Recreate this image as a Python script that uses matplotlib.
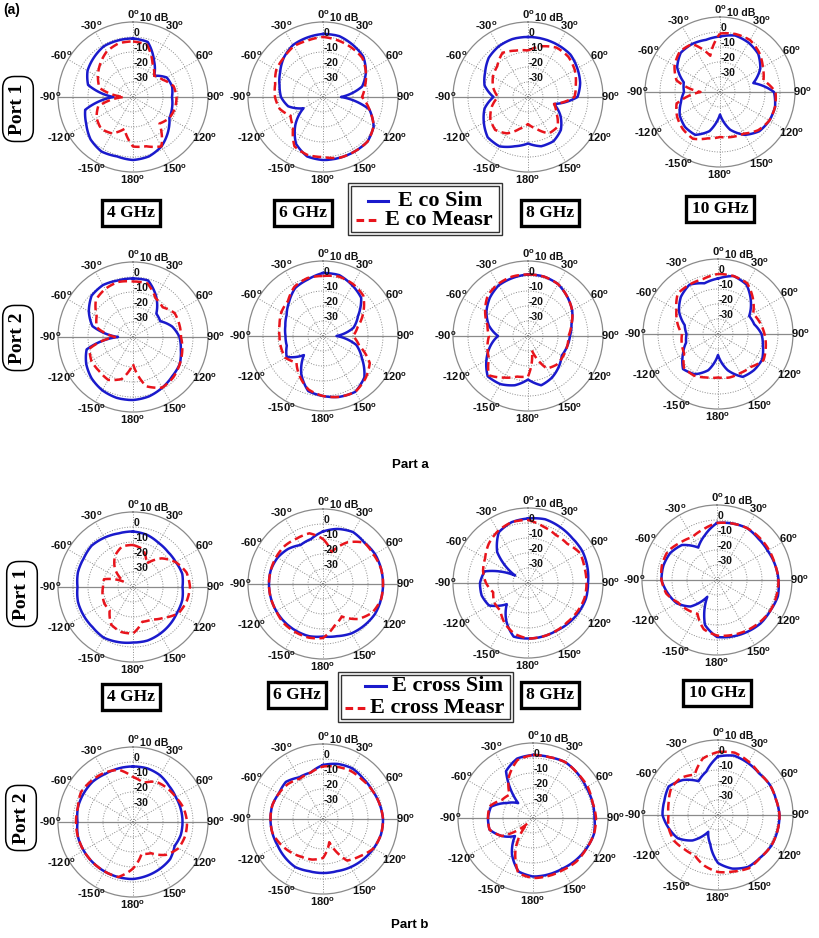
import numpy as np
import matplotlib
matplotlib.use("Agg")
import matplotlib.pyplot as plt
from matplotlib.patches import Rectangle
from matplotlib.lines import Line2D

plt.rcParams['mathtext.default'] = 'regular'

# angles (deg, clockwise from top) at which the patterns were read
angles = np.arange(0, 360, 15)

# ---- Part a: E co (dB) ----
co_p1_4_sim = [-1, -2, -12, -20, -14, -13, -14, -13, -12, -7, -2, 1, 2, 1, 2, 0, -4, -7, -27, -9, -5, -3, -1, -1]
co_p1_4_meas = [-3, -4, -14, -20, -17, -12, -11, -11, -12, -15, -2, -6, -7, -18, -12, -10, -12, -16, -34, -17, -13, -9, -5, -3]
co_p1_6_sim = [2, 2, 0, -2, -7, -13, -28, -8, -1, 2, 2, 2, 2, 1, -4, -14, -25, -16, -12, -10, -7, -3, 0, 1]
co_p1_6_meas = [0, -1, -2, -3, -7, -11, -14, -8, -1, 2, 2, 2, 0, 0, -2, -12, -15, -10, -8, -7, -4, -3, -1, -1]
co_p1_8_sim = [0, 0, 0, 0, -2, -4, -7, -22, -15, -9, -6, -6, -9, -6, -2, -2, -6, -10, -17, -10, -7, -3, -1, 0]
co_p1_8_meas = [-9, -5, -2, -2, -4, -7, -9, -22, -18, -12, -12, -18, -22, -18, -12, -9, -11, -15, -20, -16, -13, -11, -6, -8]
co_p1_10_sim = [-3, -1, -2, -4, -9, -17, -4, -2, -2, -3, -7, -14, -25, -13, -7, -7, -9, -13, -16, -15, -7, -3, -3, -4]
co_p1_10_meas = [-1, 0, 0, -3, -7, -10, -3, -2, -2, -4, -8, -9, -10, -8, -4, -5, -7, -10, -27, -10, -5, -2, -3, -15]
co_p2_4_sim = [-1, -1, -9, -18, -19, -13, -9, -7, -4, -3, -1, 1, 2, 2, 1, -1, -4, -8, -30, -12, -6, -1, 0, -1]
co_p2_4_meas = [-3, -3, -10, -12, -8, -8, -8, -6, -4, -2, -1, -6, -22, -11, -7, -8, -8, -10, -28, -15, -12, -5, -3, -2]
co_p2_6_sim = [2, 2, -1, -4, -13, -19, -31, -17, -10, -1, 3, 2, 0, -2, -11, -22, -12, -15, -15, -14, -12, -8, -3, -1]
co_p2_6_meas = [0, 1, 0, -2, -9, -16, -20, -15, -4, 0, 3, 2, 0, -3, -9, -15, -11, -11, -11, -10, -8, -7, -2, 0]
co_p2_8_sim = [1, 1, 0, -3, -6, -10, -12, -13, -14, -11, -8, -6, -11, -6, -3, -2, -8, -14, -20, -13, -8, -4, -1, 0]
co_p2_8_meas = [1, 1, 0, -3, -6, -10, -13, -13, -13, -13, -15, -30, -13, -12, -8, -3, -10, -12, -14, -12, -7, -2, 0, 1]
co_p2_10_sim = [-3, 0, -2, -9, -16, -15, -11, -9, -6, -6, -7, -15, -26, -15, -9, -7, -13, -18, -19, -17, -10, -5, -2, -5]
co_p2_10_meas = [0, 0, -1, -7, -13, -11, -9, -7, -5, -9, -10, -10, -11, -10, -8, -8, -14, -15, -16, -12, -8, -2, -2, -2]

# ---- Part b: E cross (dB) ----
cr_p1_4_sim = [-3, -4, -6, -7, -7, -6, -7, -6, -6, -5, -4, -3, -3, -2, -1, -2, -2, -2, -3, -2, -2, -1, -2, -3]
cr_p1_4_meas = [-12, -14, -22, -13, -7, -3, -2, -3, -5, -11, -15, -16, -9, -9, -11, -18, -18, -19, -20, -20, -33, -23, -16, -12]
cr_p1_6_sim = [-5, -2, 0, -1, 0, 0, 0, 0, 0, -1, -2, -4, -5, -4, -4, -4, -4, -4, -4, -4, -5, -7, -10, -9]
cr_p1_6_meas = [-10, -18, -8, -1, -1, 0, 0, 0, -2, -7, -15, -11, -4, -3, -3, -3, -4, -4, -4, -4, -4, -4, -5, -5]
cr_p1_8_sim = [3, 4, 3, 2, 2, 1, 0, 0, -1, -2, -3, -3, -3, -3, -11, -20, -10, -8, -8, -10, -30, -11, -1, 2]
cr_p1_8_meas = [2, -1, -3, -3, 0, -1, -1, -1, -2, -3, -3, -3, -3, -5, -9, -14, -14, -16, -12, -9, -7, -3, 0, 2]
cr_p1_10_sim = [-2, -1, 0, -1, -1, 0, 1, 2, 1, 1, 0, -1, -2, -9, -27, -15, -9, -6, -3, -3, -4, -7, -15, -9]
cr_p1_10_meas = [-2, -1, 0, 0, 0, 0, 1, 1, 1, 0, -1, -2, -3, -6, -14, -12, -10, -5, -3, -2, -2, -5, -7, -5]
cr_p2_4_sim = [-3, -3, -4, -6, -7, -7, -7, -7, -8, -5, -4, -3, -2, -2, -2, -2, -2, -2, -3, -2, -2, -2, -3, -3]
cr_p2_4_meas = [-10, -13, -9, -8, -7, -5, -4, -4, -5, -9, -16, -18, -9, -2, -2, -2, -2, -2, -2, -2, 0, -1, -2, -4]
cr_p2_6_sim = [-4, -2, -1, -2, -2, -1, 0, 0, -1, -2, -3, -4, -4, -4, -3, -4, -5, -5, -5, -5, -6, -5, -8, -8]
cr_p2_6_meas = [-5, -4, -3, -3, -2, -1, 0, 0, -1, -5, -8, -24, -14, -12, -11, -9, -7, -5, -5, -5, -6, -7, -9, -8]
cr_p2_8_sim = [2, 2, 3, 2, 1, 1, 1, 2, 1, 0, -1, -1, -1, -3, -12, -23, -16, -10, -10, -11, -20, -26, -4, 1]
cr_p2_8_meas = [2, 2, 3, 2, 2, 1, 2, 2, 1, 1, 0, 0, 0, -2, -17, -35, -16, -10, -10, -10, -16, -18, -8, 0]
cr_p2_10_sim = [-1, 1, 0, -1, 0, 0, 1, 1, 1, 0, 0, -3, -8, -20, -27, -16, -9, -6, -3, -3, -2, -7, -14, -10]
cr_p2_10_meas = [2, 3, 1, -1, 0, 0, 1, 1, 1, 0, 1, -1, -2, -5, -9, -8, -6, -6, -7, -6, -4, -5, -9, -1]

freqs = ["4 GHz", "6 GHz", "8 GHz", "10 GHz"]
ring_vals = [-30, -20, -10, 0, 10]
ring_text = ["-30", "-20", "-10", "0", "10 dB"]
angle_text = ["0", "30", "60", "90", "120", "150", "180", "-150", "-120", "-90", "-60", "-30"]

W, H = 819, 938
R = 75  # outer ring radius in pixels
fig = plt.figure(figsize=(W / 100, H / 100), dpi=100)

SANS = 'Liberation Sans'
SERIF = 'Liberation Serif'
BLUE = '#1a1acc'
RED = '#e8141c'
GRID = '#8a8a8a'


def fx(x):
    return x / W


def fy(y):
    return 1 - y / H


def polar_panel(cx, cy, sim, meas):
    ax = fig.add_axes([fx(cx - R), fy(cy + R), 2 * R / W, 2 * R / H], projection='polar')
    ax.set_theta_zero_location('N')
    ax.set_theta_direction(-1)
    ax.set_ylim(-40, 10)
    ax.set_yticks([-30, -20, -10, 0])
    ax.set_yticklabels([])
    ax.set_xticks(np.deg2rad(np.arange(0, 360, 30)))
    ax.set_xticklabels([])
    ax.grid(True, color=GRID, linestyle=':', linewidth=0.7)
    ax.spines['polar'].set_color(GRID)
    ax.spines['polar'].set_linewidth(0.9)
    ax.patch.set_alpha(0)
    # solid horizontal axis line
    for t in (np.pi / 2, 3 * np.pi / 2):
        ax.plot([t, t], [-40, 10], color=GRID, lw=0.9, zorder=1)
    th = np.deg2rad(np.append(angles, 360))
    l1, = ax.plot(th, np.append(sim, sim[0]), color=BLUE, lw=1.8, zorder=3)
    l2, = ax.plot(th, np.append(meas, meas[0]), color=RED, lw=1.8, ls=(0, (3.5, 1.8)), zorder=4)
    # draw each segment as a polar (r vs theta) curve instead of a chord
    for ln in (l1, l2):
        ln.get_path()._interpolation_steps = 12
    # ring labels
    for v, s in zip(ring_vals, ring_text):
        rr = (v + 40) / 50 * R
        x0 = cx + (7 if s == "10 dB" else 1)
        fig.text(fx(x0), fy(cy - rr - 4), s, ha='left', va='center',
                 fontsize=7.5, fontweight='bold', family=SANS, color='#111111')
    # angle labels
    for k, s in enumerate(angle_text):
        a = np.deg2rad(30 * k)
        lx = cx + 1.1 * R * np.sin(a)
        ly = cy - 1.1 * R * np.cos(a)
        fig.text(fx(lx), fy(ly), s + "$^o$", ha='center', va='center',
                 fontsize=8, fontweight='bold', family=SANS, color='#111111')


def freq_box(cx, cy, s):
    fig.text(fx(cx), fy(cy), s, ha='center', va='center', fontsize=12.5,
             fontweight='bold', family=SERIF,
             bbox=dict(boxstyle='square,pad=0.3', fc='white', ec='black', lw=2.4))


def port_box(cx, cy, s):
    fig.text(fx(cx), fy(cy), s, ha='center', va='center', rotation=90, fontsize=14,
             fontweight='bold', family=SERIF,
             bbox=dict(boxstyle='round,pad=0.35,rounding_size=0.6', fc='white', ec='black', lw=1.1))


def legend_box(x0, y0, x1, y1, rows):
    for inset in (0, 3):
        fig.patches.append(Rectangle((fx(x0 + inset), fy(y1 - inset)),
                                     (x1 - x0 - 2 * inset) / W, (y1 - y0 - 2 * inset) / H,
                                     transform=fig.transFigure, fill=False, ec='#333333', lw=1.0))
    for (lx0, lx1, ty, tx, txt, col, ls) in rows:
        fig.lines.append(Line2D([fx(lx0), fx(lx1)], [fy(ty), fy(ty)], transform=fig.transFigure,
                                color=col, lw=2.2, ls=ls))
        fig.text(fx(tx), fy(ty), txt, ha='left', va='center', fontsize=16,
                 fontweight='bold', family=SERIF)


centers = [
    [(133, 97), (323, 97), (528, 97), (720, 92)],
    [(133, 337), (323, 336), (528, 336), (718, 334)],
    [(133, 587), (323, 584), (528, 583), (717, 580)],
    [(133, 822), (323, 819), (533, 818), (718, 815)],
]
panels = [
    [(co_p1_4_sim, co_p1_4_meas), (co_p1_6_sim, co_p1_6_meas),
     (co_p1_8_sim, co_p1_8_meas), (co_p1_10_sim, co_p1_10_meas)],
    [(co_p2_4_sim, co_p2_4_meas), (co_p2_6_sim, co_p2_6_meas),
     (co_p2_8_sim, co_p2_8_meas), (co_p2_10_sim, co_p2_10_meas)],
    [(cr_p1_4_sim, cr_p1_4_meas), (cr_p1_6_sim, cr_p1_6_meas),
     (cr_p1_8_sim, cr_p1_8_meas), (cr_p1_10_sim, cr_p1_10_meas)],
    [(cr_p2_4_sim, cr_p2_4_meas), (cr_p2_6_sim, cr_p2_6_meas),
     (cr_p2_8_sim, cr_p2_8_meas), (cr_p2_10_sim, cr_p2_10_meas)],
]

for row in range(4):
    for col in range(4):
        cx, cy = centers[row][col]
        sim, meas = panels[row][col]
        polar_panel(cx, cy, sim, meas)

# frequency boxes
for (x, y), s in zip([(131, 213), (303, 213), (550, 213), (720, 209)], freqs):
    freq_box(x, y, s)
for (x, y), s in zip([(131, 697), (297, 695), (550, 695), (717, 693)], freqs):
    freq_box(x, y, s)

# port boxes
port_box(18, 109, "Port 1")
port_box(18, 338, "Port 2")
port_box(22, 594, "Port 1")
port_box(21, 818, "Port 2")

# legends
legend_box(348, 183, 502, 235, [
    (368, 388, 201, 398, "E co Sim", BLUE, '-'),
    (356, 378, 220, 385, "E co Measr", RED, (0, (2.5, 1.5))),
])
legend_box(338, 672, 513, 722, [
    (365, 386, 686, 392, "E cross Sim", BLUE, '-'),
    (345, 367, 708, 370, "E cross Measr", RED, (0, (2.5, 1.5))),
])

fig.text(fx(3), fy(10), "(a)", ha='left', va='center', fontsize=10, fontweight='bold', family=SANS)
fig.text(fx(410), fy(465), "Part a", ha='center', va='center', fontsize=9.5, fontweight='bold', family=SANS)
fig.text(fx(410), fy(925), "Part b", ha='center', va='center', fontsize=9.5, fontweight='bold', family=SANS)

fig.savefig("out.png", dpi=100, facecolor='white')
